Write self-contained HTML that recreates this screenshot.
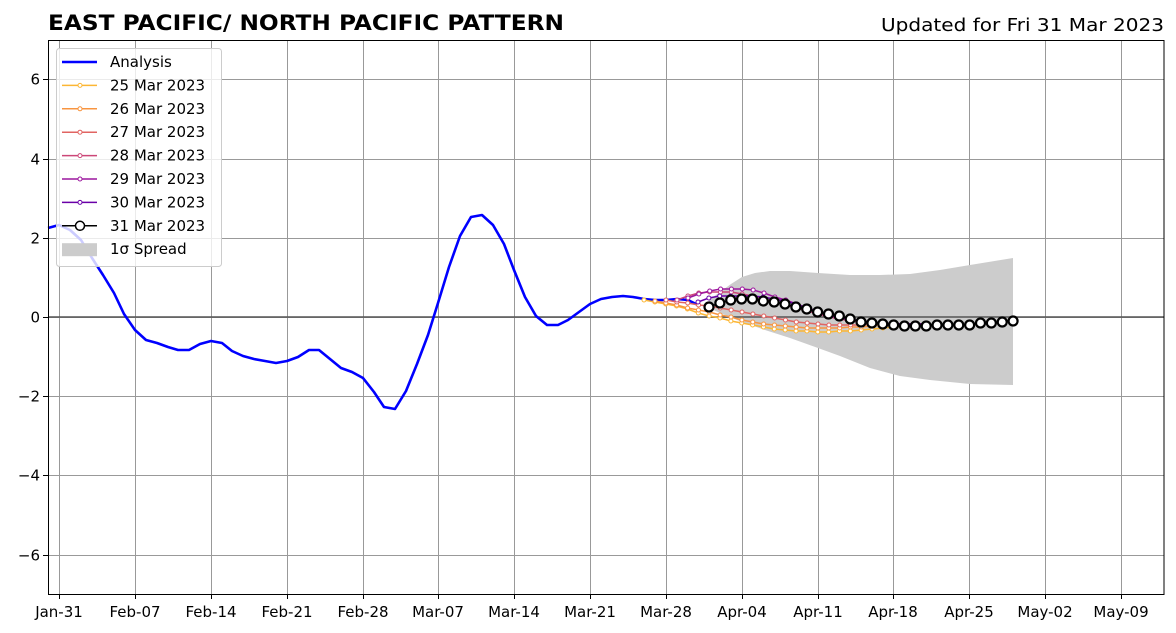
<!DOCTYPE html>
<html><head><meta charset="utf-8"><style>
body{margin:0;background:#fff;width:1176px;height:633px;overflow:hidden}
svg{display:block;font-family:"DejaVu Sans","Liberation Sans",sans-serif}
</style></head><body>
<svg id="s" width="1176" height="633" viewBox="0 0 1176 633">
<rect width="1176" height="633" fill="#fff"/>
<text x="48" y="30" font-size="21" font-weight="bold" textLength="516" lengthAdjust="spacingAndGlyphs">EAST PACIFIC/ NORTH PACIFIC PATTERN</text>
<text x="1164" y="31" font-size="18" text-anchor="end" textLength="283" lengthAdjust="spacingAndGlyphs">Updated for Fri 31 Mar 2023</text>
<g id="grid" stroke="#999" stroke-width="1"></g>
<g id="plot"></g>
<rect x="48.5" y="40.5" width="1115.5" height="554" fill="none" stroke="#000" stroke-width="1"/>
<g id="ticks" font-size="15"></g>
<g id="legend"></g>
</svg>
<script>
const NS="http://www.w3.org/2000/svg";
function el(p,t,a){const e=document.createElementNS(NS,t);for(const k in a)e.setAttribute(k,a[k]);p.appendChild(e);return e;}
const g=document.getElementById('grid'),pl=document.getElementById('plot'),tk=document.getElementById('ticks'),lg=document.getElementById('legend');
const xs=[59,135,211,287,363,438,514,590,666,742,818,893,969,1045,1121];
const xl=["Jan-31","Feb-07","Feb-14","Feb-21","Feb-28","Mar-07","Mar-14","Mar-21","Mar-28","Apr-04","Apr-11","Apr-18","Apr-25","May-02","May-09"];
xs.forEach((x,i)=>{el(g,'line',{x1:x+.5,x2:x+.5,y1:40,y2:594});el(tk,'line',{x1:x+.5,x2:x+.5,y1:594,y2:599,stroke:'#000'});const t=el(tk,'text',{x:x,y:617,'text-anchor':'middle'});t.textContent=xl[i];});
const Y=v=>317-v*39.6;
[-6,-4,-2,0,2,4,6].forEach(v=>{const y=Math.round(Y(v))+.5;el(g,'line',{x1:48,x2:1164,y1:y,y2:y});el(tk,'line',{x1:43,x2:48,y1:y,y2:y,stroke:'#000'});const t=el(tk,'text',{x:40,y:y+5,'text-anchor':'end'});t.textContent=(v<0?'\u2212':'')+Math.abs(v);});
const up=[[709,300],[720,292],[731,284],[742,277],[755,273],[770,271],[790,271],[818,273],[850,275],[880,275],[910,274],[940,270],[970,265],[1013,258]];
const lo=[[1013,385],[970,384],[930,380],[900,376],[870,368],[840,356],[818,348],[790,338],[765,330],[742,322],[720,313],[709,308]];
el(pl,'polygon',{points:up.concat(lo).map(p=>p.join(',')).join(' '),fill:'#cccccc'});
el(pl,'line',{x1:48,x2:1164,y1:317,y2:317,stroke:'#555','stroke-width':1.5});
const an=[[48,228],[59,225],[70,230],[81,240],[92,258],[103,275],[114,293],[124,314],[135,330],[146,340],[157,343],[168,347],[178,350],[189,350],[200,344],[211,341],[222,343],[232,351],[243,356],[254,359],[265,361],[276,363],[287,361],[298,357],[309,350],[319,350],[330,359],[341,368],[352,372],[363,378],[374,392],[384,407],[395,409],[406,391],[417,364],[428,335],[438,303],[449,267],[460,236],[471,217],[482,215],[493,225],[504,244],[514,270],[525,297],[536,316],[547,325],[558,325],[568,320],[579,312],[590,304],[601,299],[612,297],[623,296],[633,297],[644,299],[655,300],[666,300],[677,299],[688,300],[698,305]];
el(pl,'polyline',{points:an.map(p=>p.join(',')).join(' '),fill:'none',stroke:'#0000ff','stroke-width':2.6,'stroke-linejoin':'round'});
const D=10.86;
const fc=[
 ['#fcb634',644,[300,302,304,306,309,313,316,318,321,323,325,327,329,330,331,331,332,332,331,331,330,329,328,327,326,326,325]],
 ['#f89540',655,[301,303,305,308,310,312,315,317,320,322,324,325,326,327,328,328,328,328,327,327,326,325,325,324,324,324]],
 ['#e16462',666,[300,302,303,305,306,308,310,312,314,316,318,320,322,323,324,325,325,325,325,324,324,324,324,324,324]],
 ['#cc4778',677,[300,296,293,292,292,292,294,296,299,302,305,308,311,314,317,319,321,322,323,324,324,324,324,324]],
 ['#9c179e',688,[298,294,291,289,289,289,290,293,297,300,304,308,312,316,318,320,322,323,324,324,324,324,324]],
 ['#6a00a8',698,[302,298,296,296,296,296,297,299,301,304,308,311,314,317,319,321,322,323,324,324,324,324]]
];
fc.forEach(([c,x0,v])=>{const pts=v.map((y,i)=>[x0+i*D,y]);el(pl,'polyline',{points:pts.map(p=>p.join(',')).join(' '),fill:'none',stroke:c,'stroke-width':1.5});pts.forEach(p=>el(pl,'circle',{cx:p[0],cy:p[1],r:2,fill:'#fff',stroke:c,'stroke-width':1}));});
const f31=[307,303,300,299,299,301,302,304,307,309,312,314,316,319,322,323,324,325,326,326,326,325,325,325,325,323,323,322,321];
const p31=f31.map((y,i)=>[709+i*10.86,y]);
el(pl,'polyline',{points:p31.map(p=>p.join(',')).join(' '),fill:'none',stroke:'#000','stroke-width':1.5});
p31.forEach(p=>el(pl,'circle',{cx:p[0],cy:p[1],r:4.5,fill:'#fff',stroke:'#000','stroke-width':2.2}));
el(lg,'rect',{x:56.5,y:48.5,width:165,height:218,rx:3,fill:'#fff','fill-opacity':0.8,stroke:'#ccc'});
const items=[['Analysis','#0000ff','a'],['25 Mar 2023','#fcb634','m'],['26 Mar 2023','#f89540','m'],['27 Mar 2023','#e16462','m'],['28 Mar 2023','#cc4778','m'],['29 Mar 2023','#9c179e','m'],['30 Mar 2023','#6a00a8','m'],['31 Mar 2023','#000','b'],['1\u03c3 Spread','#ccc','s']];
items.forEach(([t,c,k],i)=>{const y=62+i*23.4;
 if(k=='s')el(lg,'rect',{x:62,y:y-6,width:35,height:13,fill:c});
 else{el(lg,'line',{x1:62,x2:97,y1:y,y2:y,stroke:c,'stroke-width':k=='a'?2.6:1.5});
 if(k=='m')el(lg,'circle',{cx:80,cy:y,r:2,fill:'#fff',stroke:c});
 if(k=='b')el(lg,'circle',{cx:80,cy:y,r:4.5,fill:'#fff',stroke:c,'stroke-width':1.5});}
 const tx=el(lg,'text',{x:110,y:y+5,'font-size':15});tx.textContent=t;});
</script>
</body></html>
